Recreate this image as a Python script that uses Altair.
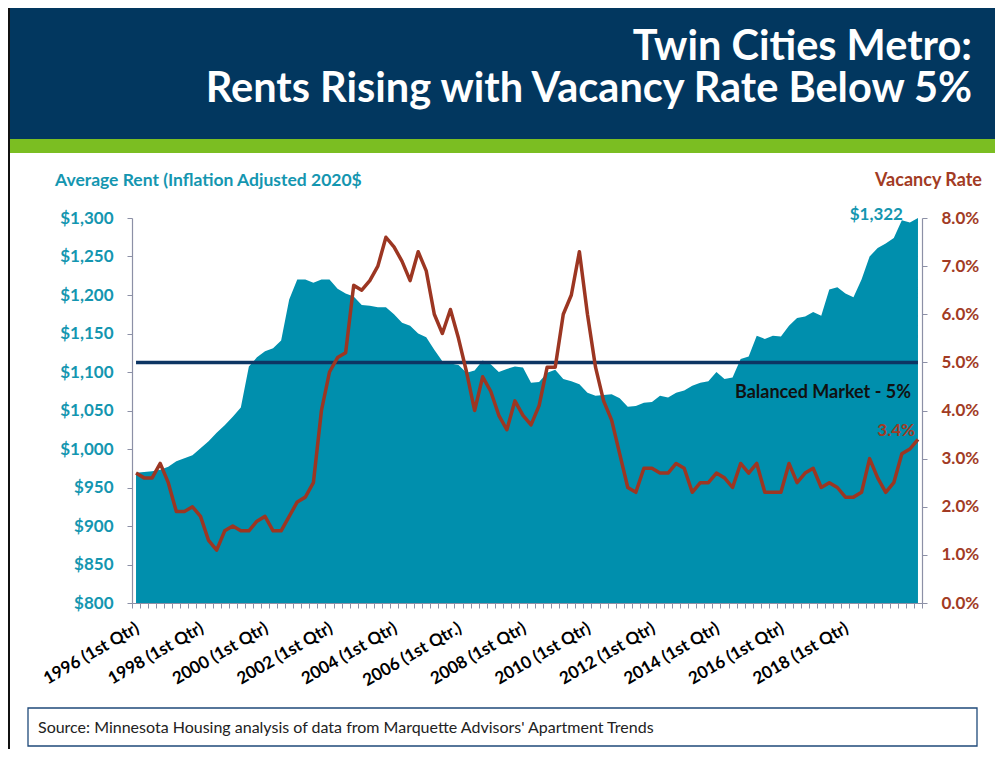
import altair as alt
import pandas as pd

# ---------------- data ----------------
rent = [969, 970, 971, 973, 977, 984, 988, 992, 1001, 1010,
        1021, 1031, 1042, 1054, 1107, 1119, 1127, 1131, 1141, 1194,
        1220, 1220, 1216, 1220, 1220, 1208, 1202, 1198, 1187, 1186,
        1184, 1184, 1175, 1164, 1160, 1150, 1145, 1129, 1114, 1111,
        1109, 1099, 1102, 1115, 1110, 1100, 1104, 1107, 1106, 1086,
        1087, 1099, 1103, 1091, 1088, 1084, 1073, 1069, 1070, 1071,
        1066, 1055, 1056, 1060, 1061, 1069, 1067, 1073, 1076, 1082,
        1086, 1088, 1100, 1091, 1093, 1117, 1120, 1147, 1143, 1147,
        1146, 1160, 1170, 1172, 1178, 1173, 1207, 1210, 1202, 1197,
        1220, 1250, 1261, 1267, 1274, 1297, 1294, 1322]

vacancy = [2.7, 2.6, 2.6, 2.9, 2.5, 1.9, 1.9, 2.0, 1.8, 1.3,
           1.1, 1.5, 1.6, 1.5, 1.5, 1.7, 1.8, 1.5, 1.5, 1.8,
           2.1, 2.2, 2.5, 4.0, 4.8, 5.1, 5.2, 6.6, 6.5, 6.7,
           7.0, 7.6, 7.4, 7.1, 6.7, 7.3, 6.9, 6.0, 5.6, 6.1,
           5.5, 4.8, 4.0, 4.7, 4.4, 3.9, 3.6, 4.2, 3.9, 3.7,
           4.1, 4.9, 4.9, 6.0, 6.4, 7.3, 6.0, 4.9, 4.2, 3.8,
           3.1, 2.4, 2.3, 2.8, 2.8, 2.7, 2.7, 2.9, 2.8, 2.3,
           2.5, 2.5, 2.7, 2.6, 2.4, 2.9, 2.7, 2.9, 2.3, 2.3,
           2.3, 2.9, 2.5, 2.7, 2.8, 2.4, 2.5, 2.4, 2.2, 2.2,
           2.3, 3.0, 2.6, 2.3, 2.5, 3.1, 3.2, 3.4]

label_index = [0, 8, 16, 24, 32, 40, 48, 56, 64, 72, 80, 88]
label_text = ["1996 (1st Qtr)", "1998 (1st Qtr)", "2000 (1st Qtr)", "2002 (1st Qtr)",
              "2004 (1st Qtr)", "2006 (1st Qtr.)", "2008 (1st Qtr)", "2010 (1st Qtr)",
              "2012 (1st Qtr)", "2014 (1st Qtr)", "2016 (1st Qtr)", "2018 (1st Qtr)"]

rent_ticks = [800, 850, 900, 950, 1000, 1050, 1100, 1150, 1200, 1250, 1300]
vac_ticks = [0, 1, 2, 3, 4, 5, 6, 7, 8]
balanced = 5.0

n = len(rent)
df = pd.DataFrame({"i": list(range(n)), "rent": rent, "vac": vacancy})
lab_df = pd.DataFrame({"i": label_index, "lbl": label_text})
last_df = pd.DataFrame({"i": [n - 1], "rent": [rent[-1]], "vac": [vacancy[-1]],
                        "rl": ["${:,.0f}".format(rent[-1])],
                        "vl": ["{:.1f}%".format(vacancy[-1])]})
bal_df = pd.DataFrame({"i0": [0], "i1": [n - 1], "v": [balanced],
                       "t": ["Balanced Market - 5%"]})
one = pd.DataFrame({"k": [0]})

# ---------------- style ----------------
W, H = 790, 385
PL, PT, PR, PB = 124, 210, 73, 146
TEAL = "#008FAD"
TEAL_TXT = "#1496B0"
BROWN = "#9C3622"
BROWN_TXT = "#A23B24"
NAVY = "#0D3563"
HEADER = "#02375F"
GREEN = "#7BBE22"
AXIS = "#8C90A6"
FONT = "Lato"

xscale = alt.Scale(domain=[-0.5, n - 0.5], nice=False, zero=False)
xaxis = alt.Axis(values=[k - 0.5 for k in range(n + 1)], labels=False, title=None,
                 tickSize=5, tickColor=AXIS, domainColor=AXIS, grid=False,
                 domainWidth=1.2, tickWidth=1)


def X(field="i"):
    return alt.X(f"{field}:Q", scale=xscale, axis=xaxis)


rscale = alt.Scale(domain=[800, 1300], nice=False, zero=False, clamp=True)
vscale = alt.Scale(domain=[0, 8], nice=False, zero=True)

raxis = alt.Axis(values=rent_ticks, format="$,.0f", title=None, grid=False,
                 labelColor=TEAL_TXT, labelFont=FONT, labelFontWeight="bold",
                 labelFontSize=17, tickSize=5, tickColor=AXIS, domainColor=AXIS,
                 labelPadding=14, domainWidth=1.2, orient="left")
vaxis = alt.Axis(values=vac_ticks, labelExpr="format(datum.value, '.1f') + '%'",
                 title=None, grid=False, orient="right",
                 labelColor=BROWN_TXT, labelFont=FONT, labelFontWeight="bold",
                 labelFontSize=17, tickSize=5, tickColor=AXIS, domainColor=AXIS,
                 labelPadding=14, domainWidth=1.2)


def YR(field="rent"):
    return alt.Y(f"{field}:Q", scale=rscale, axis=raxis)


def YV(field="vac"):
    return alt.Y(f"{field}:Q", scale=vscale, axis=vaxis)


area = alt.Chart(df).mark_area(color=TEAL, opacity=1).encode(x=X(), y=YR())

rent_lbl = alt.Chart(last_df).mark_text(
    align="right", baseline="alphabetic", dx=-15, dy=2, color=TEAL_TXT,
    font=FONT, fontWeight="bold", fontSize=17
).encode(x=X(), y=YR(), text="rl:N")

bal_rule = alt.Chart(bal_df).mark_rule(color=NAVY, strokeWidth=3.5).encode(
    x=X("i0"), x2="i1:Q", y=YV("v")
)

bal_txt = alt.Chart(bal_df).mark_text(
    align="right", baseline="middle", dx=-7, dy=31, color="#111111",
    font=FONT, fontWeight="bold", fontSize=18
).encode(x=X("i1"), y=YV("v"), text="t:N")

vac_line = alt.Chart(df).mark_line(color=BROWN, strokeWidth=3.5, strokeJoin="round").encode(
    x=X(), y=YV()
)

vac_lbl = alt.Chart(last_df).mark_text(
    align="right", baseline="alphabetic", dx=-3, dy=-3, color=BROWN_TXT,
    font=FONT, fontWeight="bold", fontSize=17
).encode(x=X(), y=YV(), text="vl:N")

xlabels = alt.Chart(lab_df).mark_text(
    align="right", baseline="middle", angle=330, dx=2, color="#000000",
    font=FONT, fontWeight="bold", fontSize=17
).encode(x=X(), y=alt.value(H + 25), text="lbl:N")

# ---------------- decorations (page furniture) ----------------
header = alt.Chart(one).mark_rect(color=HEADER).encode(
    x=alt.value(-PL), x2=alt.value(W + PR), y=alt.value(-PT), y2=alt.value(-79))
green = alt.Chart(one).mark_rect(color=GREEN).encode(
    x=alt.value(-PL), x2=alt.value(W + PR), y=alt.value(-79), y2=alt.value(-65))
border = alt.Chart(one).mark_rect(color="#111111").encode(
    x=alt.value(-PL), x2=alt.value(-PL + 2), y=alt.value(-PT), y2=alt.value(H + PB))
title = alt.Chart(one).mark_text(
    align="right", baseline="top", color="white", font=FONT,
    fontWeight="bold", fontSize=41.5, lineHeight=42
).encode(x=alt.value(840), y=alt.value(-191),
         text=alt.value(["Twin Cities Metro:", "Rents Rising with Vacancy Rate Below 5%"]))
ltitle = alt.Chart(one).mark_text(
    align="left", baseline="middle", color=TEAL_TXT, font=FONT,
    fontWeight="bold", fontSize=17.5
).encode(x=alt.value(-77), y=alt.value(-37),
         text=alt.value("Average Rent (Inflation Adjusted 2020$"))
rtitle = alt.Chart(one).mark_text(
    align="right", baseline="middle", color=BROWN_TXT, font=FONT,
    fontWeight="bold", fontSize=18
).encode(x=alt.value(850), y=alt.value(-37), text=alt.value("Vacancy Rate"))
src_box = alt.Chart(one).mark_rect(fill="white", stroke="#1F4A7A", strokeWidth=1.3).encode(
    x=alt.value(-104), x2=alt.value(845), y=alt.value(490), y2=alt.value(528))
src_txt = alt.Chart(one).mark_text(
    align="left", baseline="middle", color="#222222", font=FONT, fontSize=16
).encode(x=alt.value(-94), y=alt.value(509.5),
         text=alt.value("Source:  Minnesota Housing analysis of data from Marquette Advisors' Apartment Trends"))

rent_layer = alt.layer(area, rent_lbl)
vac_layer = alt.layer(bal_rule, bal_txt, vac_line, vac_lbl)

chart = alt.layer(
    header, green, border, title, ltitle, rtitle, src_box, src_txt,
    rent_layer, vac_layer, xlabels
).resolve_scale(y="independent").properties(
    width=W, height=H,
    autosize=alt.AutoSizeParams(type="none"),
    padding={"left": PL, "top": PT, "right": PR, "bottom": PB},
    background="white",
).configure_view(stroke=None)

chart.save("out.html", embed_options={"renderer": "svg", "actions": False})
